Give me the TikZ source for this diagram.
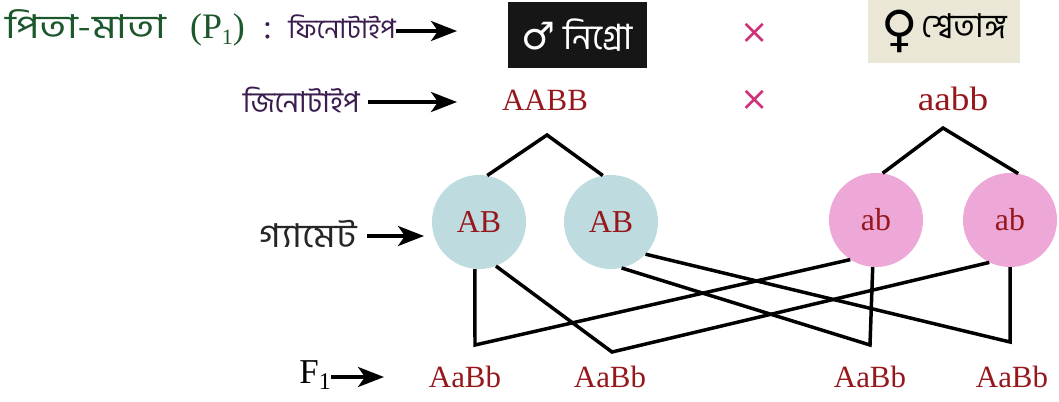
\documentclass[tikz,border=0pt]{standalone}
\usepackage{fontspec}
\usepackage{graphicx}
\setmainfont{Liberation Serif}
\newfontfamily\bn[Script=Bengali]{Hind Siliguri}
\newfontfamily\sym{DejaVu Sans}
\usetikzlibrary{arrows.meta}
\definecolor{pgreen}{RGB}{28,88,44}
\definecolor{ppurple}{RGB}{58,28,78}
\definecolor{gred}{RGB}{150,24,28}
\definecolor{xmag}{RGB}{208,48,122}
\definecolor{cblue}{RGB}{190,220,224}
\definecolor{cpink}{RGB}{238,168,216}
\definecolor{beige}{RGB}{234,231,214}
\definecolor{boxblack}{RGB}{22,22,22}
\newcommand{\lowone}[1]{\raisebox{-.35ex}{\fontsize{#1}{#1}\selectfont 1}}
\begin{document}
\begin{tikzpicture}[x=1bp,y=-1bp,
  lbl/.style={font=\bn\fontsize{29}{34}\selectfont, inner sep=0pt},
  gen/.style={font=\fontsize{31}{34}\selectfont, text=gred, inner sep=0pt},
  cross/.style={font=\sym\fontsize{34}{36}\selectfont, text=xmag, inner sep=0pt},
  ptr/.style={line width=3.6pt, -{Stealth[length=26bp,width=20bp,inset=7bp]}},
  link/.style={line width=3.5pt, line join=miter},
  gamA/.style={circle, fill=cblue, minimum size=94bp, inner sep=0pt, font=\fontsize{32}{34}\selectfont, text=gred},
  gamB/.style={circle, fill=cpink, minimum size=94bp, inner sep=0pt, font=\fontsize{32}{34}\selectfont, text=gred}]
\useasboundingbox (0,0) rectangle (1059,401);

% row 1: phenotype
\node[lbl, anchor=west] (phen) at (5,28) {\textcolor{pgreen}{\scalebox{1.25}[1]{\fontsize{33}{36}\selectfont পিতা-মাতা}\hspace{24bp}{\rmfamily\fontsize{36}{38}\selectfont (P\lowone{22})}}\textcolor{ppurple}{\hspace{18bp}{\rmfamily\fontsize{34}{36}\selectfont :}\hspace{16bp}{\fontsize{27}{32}\selectfont ফিনোটাইপ}}};
\coordinate (phenend) at (457,31);
\draw[ptr] (phen.east|-phenend) -- (phenend);
\node[fill=boxblack, minimum width=139bp, minimum height=66bp, inner sep=0pt, text=white, font=\bn\fontsize{35}{38}\selectfont] (male) at (577,35) {{\sym\fontsize{38}{38}\selectfont ♂}\hspace{8bp}নিগ্রো};
\node[cross] (x1) at (755,33) {×};
\node[fill=beige, minimum width=152bp, minimum height=64bp, inner sep=0pt, font=\bn\fontsize{33}{36}\selectfont] (female) at (944,31) {\raisebox{-9bp}{\sym\fontsize{50}{50}\selectfont ♀}\hspace{4bp}শ্বেতাঙ্গ};

% row 2: genotype
\node[lbl, anchor=east, text=ppurple] (geno) at (360,100) {জিনোটাইপ};
\coordinate (genoend) at (457,102);
\draw[ptr] ([xshift=8bp]geno.east|-genoend) -- (genoend);
\node[gen] (AABB) at (545,100) {AABB};
\node[cross] (x2) at (755,100) {×};
\node[gen, font=\fontsize{34}{36}\selectfont] (aabb) at (953,99) {\scalebox{1.1}[1]{aabb}};

% gametes
\node[gamA] (AB1) at (479,222) {AB};
\node[gamA] (AB2) at (611,222) {AB};
\node[gamB] (ab1) at (876,220) {ab};
\node[gamB] (ab2) at (1010,220) {ab};
\node[lbl, anchor=east, text=black!85, font=\bn\fontsize{33}{36}\selectfont] (gam) at (357,234) {\scalebox{1.15}[1]{গ্যামেট}};
\coordinate (gamend) at (424,236);
\draw[ptr] ([xshift=10bp]gam.east|-gamend) -- (gamend);

\coordinate (apexL) at (547,135);
\coordinate (apexR) at (943,128);
\draw[link] (AB1.80) -- (apexL) -- (AB2.100);
\draw[link] (ab1.82) -- (apexR) -- (ab2.80);

% F1
\node[gen] (o1) at (465,377) {AaBb};
\node[gen] (o2) at (610,377) {AaBb};
\node[gen] (o3) at (870,377) {AaBb};
\node[gen] (o4) at (1012,377) {AaBb};
\node[font=\fontsize{35}{36}\selectfont, inner sep=0pt, anchor=east] (F1) at (331,375) {F\lowone{24}};
\coordinate (F1end) at (384,377);
\draw[ptr] (F1.east|-F1end) -- (F1end);

\coordinate (c1) at (475,345);
\coordinate (c2) at (612,352);
\coordinate (c3) at (870,345);
\coordinate (c4) at (1010,342);
\draw[link] (AB1.265) -- (c1) -- (ab1.237);
\draw[link] (AB1.291) -- (c2) -- (ab2.244);
\draw[link] (AB2.283) -- (c3) -- (ab1.266);
\draw[link] (AB2.317) -- (c4) -- (ab2.270);
\end{tikzpicture}
\end{document}
